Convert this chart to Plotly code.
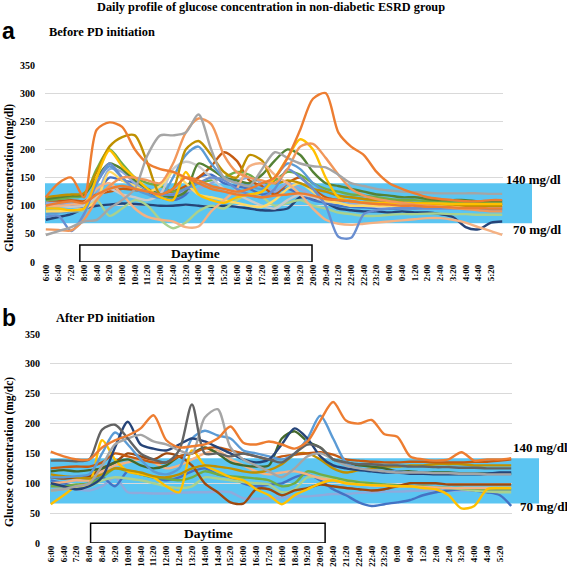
import plotly.graph_objects as go

W, H = 567, 572

# ---------------- data ----------------
tick_labels = ["6:00", "6:40", "7:20", "8:00", "8:40", "9:20", "10:00", "10:40", "11:20",
               "12:00", "12:40", "13:20", "14:00", "14:40", "15:20", "16:00", "16:40", "17:20",
               "18:00", "18:40", "19:20", "20:00", "20:40", "21:20", "22:00", "22:40", "23:20",
               "0:00", "0:40", "1:20", "2:00", "2:40", "3:20", "4:00", "4:40", "5:20"]
# sample times in minutes after 6:00 (every 40 min, last one 5:55)
minutes = [0, 40, 80, 120, 160, 200, 240, 280, 320, 360, 400, 440, 480, 520, 560, 600, 640, 680,
           720, 760, 800, 840, 880, 920, 960, 1000, 1040, 1080, 1120, 1160, 1200, 1240, 1280,
           1320, 1360, 1400, 1435]

# Panel a: before PD initiation (mg/dl)
a_navy = [75, 80, 85, 95, 100, 102, 104, 103, 102, 100, 100, 102, 100, 98, 100, 98, 95, 92, 92, 95, 115, 112, 105, 95, 92, 90, 90, 88, 90, 88, 88, 85, 80, 62, 58, 70, 72]
a_blue = [100, 102, 100, 98, 120, 150, 145, 140, 125, 115, 110, 120, 150, 155, 140, 135, 130, 120, 125, 130, 120, 110, 105, 100, 98, 97, 96, 95, 95, 95, 95, 95, 95, 95, 95, 95, 95]
a_lightgreen = [90, 92, 90, 92, 110, 82, 95, 110, 100, 75, 60, 70, 90, 100, 95, 110, 120, 115, 100, 105, 110, 100, 95, 88, 85, 82, 82, 84, 85, 85, 86, 86, 85, 85, 84, 84, 84]
a_darkorange = [105, 108, 110, 108, 120, 125, 130, 128, 125, 120, 125, 135, 150, 170, 195, 180, 145, 135, 120, 140, 150, 130, 115, 110, 108, 105, 105, 104, 104, 103, 103, 102, 102, 102, 102, 102, 102]
a_green = [110, 112, 115, 118, 165, 200, 175, 150, 140, 135, 125, 130, 140, 145, 150, 160, 155, 140, 145, 160, 155, 140, 130, 125, 120, 118, 115, 112, 110, 110, 108, 108, 106, 105, 105, 104, 104]
a_periwinkle = [105, 105, 103, 100, 120, 165, 160, 140, 130, 125, 120, 125, 130, 140, 150, 145, 150, 140, 125, 140, 130, 118, 110, 105, 103, 102, 101, 100, 100, 100, 100, 100, 100, 100, 100, 100, 100]
a_lightgray = [100, 100, 98, 100, 115, 130, 120, 115, 110, 120, 165, 178, 170, 150, 130, 120, 110, 100, 95, 110, 120, 115, 108, 105, 100, 100, 98, 97, 96, 96, 95, 95, 95, 95, 95, 95, 95]
a_darkgreen = [112, 115, 118, 120, 150, 175, 165, 145, 130, 120, 115, 125, 175, 165, 150, 145, 140, 155, 180, 200, 190, 160, 140, 135, 130, 125, 120, 118, 115, 115, 112, 110, 110, 110, 108, 108, 108]
a_lightblue = [85, 88, 90, 95, 140, 170, 150, 130, 120, 115, 150, 190, 205, 175, 150, 140, 135, 130, 150, 175, 165, 140, 125, 118, 115, 112, 110, 108, 105, 105, 104, 103, 102, 100, 100, 100, 100]
a_yellow2 = [90, 90, 92, 95, 110, 160, 145, 135, 125, 135, 160, 140, 120, 115, 110, 105, 100, 98, 110, 130, 140, 125, 110, 105, 100, 100, 100, 100, 100, 100, 100, 100, 100, 100, 100, 100, 100]
a_darkgold = [115, 118, 120, 122, 160, 205, 222, 225, 175, 120, 130, 200, 215, 190, 160, 150, 190, 180, 140, 145, 140, 130, 125, 118, 115, 112, 110, 108, 106, 105, 104, 103, 102, 100, 100, 100, 100]
a_salmon2 = [100, 100, 102, 105, 130, 140, 120, 95, 80, 75, 72, 62, 63, 90, 110, 130, 170, 175, 155, 140, 120, 95, 75, 68, 66, 68, 70, 72, 74, 76, 78, 78, 75, 70, 62, 55, 48]
a_cornflower = [80, 82, 55, 85, 140, 175, 150, 130, 125, 120, 120, 130, 140, 150, 145, 130, 120, 115, 130, 165, 150, 130, 100, 45, 43, 85, 92, 95, 96, 96, 95, 95, 95, 94, 94, 93, 93]
a_yellow = [95, 95, 92, 95, 150, 198, 170, 150, 130, 115, 110, 160, 120, 110, 105, 115, 120, 125, 150, 185, 218, 200, 150, 115, 108, 106, 105, 105, 105, 104, 104, 104, 103, 103, 103, 103, 103]
a_salmon = [58, 57, 56, 75, 110, 135, 150, 150, 145, 140, 175, 230, 255, 245, 190, 160, 150, 145, 140, 165, 205, 210, 185, 155, 130, 118, 112, 108, 105, 102, 100, 98, 96, 94, 92, 90, 90]
a_orange2 = [115, 140, 150, 115, 235, 248, 240, 200, 175, 165, 160, 150, 140, 130, 125, 120, 118, 115, 118, 120, 122, 118, 112, 110, 108, 105, 103, 102, 100, 100, 98, 98, 97, 96, 96, 95, 95]
a_gray = [48, 55, 62, 72, 75, 95, 110, 130, 190, 225, 225, 230, 262, 200, 150, 140, 135, 165, 195, 185, 175, 170, 168, 155, 140, 135, 130, 127, 125, 124, 123, 122, 122, 122, 122, 121, 121]
a_orange = [100, 105, 108, 105, 120, 130, 135, 130, 125, 120, 130, 150, 145, 135, 130, 125, 130, 140, 150, 185, 235, 290, 300, 230, 205, 190, 160, 140, 130, 122, 115, 112, 110, 108, 108, 110, 110]

# Panel b: after PD initiation (mg/dl)
b_periwinkle = [95, 92, 90, 88, 95, 110, 85, 84, 83, 83, 84, 85, 85, 86, 85, 75, 74, 75, 76, 78, 78, 80, 82, 82, 84, 85, 86, 86, 87, 88, 88, 88, 88, 88, 88, 88, 88]
b_blue = [105, 100, 95, 100, 110, 95, 120, 115, 110, 105, 110, 120, 125, 115, 110, 100, 95, 98, 100, 110, 115, 105, 90, 80, 68, 62, 65, 68, 72, 80, 85, 88, 90, 88, 85, 80, 62]
b_lightgreen = [88, 90, 92, 95, 105, 110, 108, 105, 100, 95, 92, 95, 110, 108, 105, 102, 100, 98, 85, 90, 110, 110, 108, 105, 102, 100, 98, 96, 95, 94, 93, 92, 90, 88, 86, 85, 85]
b_green = [95, 95, 98, 100, 110, 125, 120, 115, 110, 108, 105, 110, 120, 115, 112, 110, 108, 105, 95, 100, 120, 115, 110, 105, 102, 100, 98, 97, 95, 95, 93, 92, 92, 91, 90, 90, 90]
b_salmon = [100, 102, 105, 105, 120, 130, 135, 140, 135, 125, 130, 140, 150, 155, 140, 130, 120, 115, 118, 120, 115, 108, 105, 100, 98, 96, 96, 95, 95, 94, 93, 92, 92, 92, 92, 92, 92]
b_brown = [110, 108, 110, 112, 125, 135, 150, 145, 140, 150, 145, 130, 100, 85, 68, 66, 90, 90, 80, 88, 92, 98, 95, 92, 90, 88, 90, 95, 100, 100, 100, 98, 98, 98, 98, 98, 98]
b_gold = [65, 80, 95, 100, 172, 140, 120, 115, 110, 95, 85, 155, 130, 120, 110, 105, 90, 80, 65, 80, 90, 100, 105, 100, 98, 97, 96, 95, 95, 92, 90, 80, 58, 62, 90, 92, 92]
b_darkgold = [115, 112, 110, 108, 115, 125, 122, 118, 112, 110, 115, 125, 130, 128, 125, 120, 118, 122, 132, 148, 150, 140, 125, 118, 122, 125, 128, 128, 130, 130, 132, 132, 132, 130, 130, 130, 130]
b_darkgreen = [120, 122, 120, 122, 125, 135, 140, 130, 125, 130, 145, 150, 160, 150, 135, 130, 128, 130, 175, 187, 170, 160, 140, 135, 130, 128, 125, 120, 120, 118, 118, 118, 117, 117, 116, 116, 116]
b_darkorange = [125, 127, 128, 128, 135, 150, 145, 140, 135, 135, 145, 150, 158, 160, 155, 150, 145, 140, 145, 148, 150, 152, 148, 140, 138, 136, 135, 135, 136, 136, 135, 135, 135, 136, 136, 138, 140]
b_lightblue = [110, 110, 112, 115, 150, 185, 165, 140, 120, 115, 125, 175, 188, 180, 175, 155, 150, 145, 140, 150, 175, 213, 175, 135, 125, 122, 120, 120, 118, 118, 117, 117, 116, 116, 115, 115, 115]
b_navy = [100, 95, 90, 95, 110, 160, 203, 165, 158, 155, 165, 175, 170, 160, 150, 140, 135, 140, 165, 192, 175, 145, 130, 125, 122, 120, 118, 118, 116, 116, 115, 115, 115, 115, 116, 118, 118]
b_gray = [88, 90, 95, 100, 130, 165, 175, 181, 170, 165, 155, 150, 210, 224, 160, 140, 130, 120, 110, 125, 145, 150, 140, 130, 125, 122, 120, 118, 118, 118, 117, 117, 116, 116, 115, 115, 115]
b_darkgray = [138, 138, 137, 140, 190, 198, 175, 150, 140, 135, 155, 232, 150, 150, 145, 150, 145, 140, 135, 150, 165, 160, 140, 135, 132, 132, 130, 130, 128, 128, 127, 127, 126, 126, 125, 125, 125]
b_orange = [153, 145, 140, 140, 160, 172, 180, 192, 214, 172, 160, 162, 165, 175, 195, 168, 165, 170, 165, 158, 170, 205, 236, 205, 200, 206, 182, 178, 145, 140, 138, 140, 152, 138, 140, 140, 142]

panel_a = [
    (a_navy, "#264478"), (a_blue, "#4472C4"), (a_lightgreen, "#A9D18E"),
    (a_darkorange, "#C55A11"), (a_green, "#70AD47"), (a_periwinkle, "#8FAADC"),
    (a_lightgray, "#C9C9C9"), (a_darkgreen, "#548235"), (a_lightblue, "#5B9BD5"),
    (a_yellow2, "#FFD966"), (a_darkgold, "#BF9000"), (a_salmon2, "#F4B183"),
    (a_cornflower, "#698ED0"), (a_yellow, "#FFC000"), (a_salmon, "#F1975A"),
    (a_orange2, "#ED7D31"), (a_gray, "#A5A5A5"), (a_orange, "#ED7D31"),
]
panel_b = [
    (b_periwinkle, "#8FAADC"), (b_blue, "#4472C4"), (b_lightgreen, "#A9D18E"),
    (b_green, "#70AD47"), (b_salmon, "#F4B183"), (b_brown, "#9E480E"),
    (b_gold, "#FFC000"), (b_darkgold, "#BF9000"), (b_darkgreen, "#43682B"),
    (b_darkorange, "#C55A11"), (b_lightblue, "#5B9BD5"), (b_navy, "#264478"),
    (b_gray, "#A5A5A5"), (b_darkgray, "#636363"), (b_orange, "#ED7D31"),
]

SERIF = "Liberation Serif"


def px(x, y):
    return x / W, 1 - y / H


fig = go.Figure()
for vals, col in panel_a:
    assert len(vals) == len(minutes)
    fig.add_trace(go.Scatter(x=minutes, y=vals, mode="lines", xaxis="x", yaxis="y",
                             line=dict(color=col, width=2.4, shape="spline", smoothing=0.8),
                             showlegend=False, hoverinfo="skip"))
for vals, col in panel_b:
    assert len(vals) == len(minutes)
    fig.add_trace(go.Scatter(x=minutes, y=vals, mode="lines", xaxis="x2", yaxis="y2",
                             line=dict(color=col, width=2.4, shape="spline", smoothing=0.8),
                             showlegend=False, hoverinfo="skip"))

tickvals = [40 * i for i in range(len(tick_labels))]
xcommon = dict(range=[-2.5, 1437.5], tickmode="array", tickvals=tickvals, ticktext=tick_labels,
               tickangle=-90, showgrid=False, zeroline=False, showline=False, ticks="",
               tickfont=dict(family=SERIF, size=9, color="black", weight="bold"), automargin=False)
ycommon = dict(range=[0, 350], tickvals=[0, 50, 100, 150, 200, 250, 300, 350], showgrid=True,
               gridcolor="#D9D9D9", gridwidth=1.2, zeroline=False, showline=False, ticks="",
               tickfont=dict(family=SERIF, size=10, color="black", weight="bold"), automargin=False)

fig.update_layout(
    width=W, height=H, margin=dict(l=0, r=0, t=0, b=0),
    paper_bgcolor="white", plot_bgcolor="white",
    xaxis=dict(domain=[45 / W, 503 / W], anchor="y", **xcommon),
    yaxis=dict(domain=[1 - 262 / H, 1 - 65 / H], anchor="x", ticklabelstandoff=9, **ycommon),
    xaxis2=dict(domain=[50 / W, 512 / W], anchor="y2", **xcommon),
    yaxis2=dict(domain=[1 - 543 / H, 1 - 334 / H], anchor="x2", ticklabelstandoff=9, **ycommon),
    showlegend=False,
)

BAND = "#5BC5F2"
shapes = [
    dict(type="rect", xref="paper", yref="y", x0=45 / W, x1=532 / W, y0=69, y1=140,
         fillcolor=BAND, line_width=0, layer="between"),
    dict(type="rect", xref="paper", yref="y2", x0=50 / W, x1=539 / W, y0=66, y1=142,
         fillcolor=BAND, line_width=0, layer="between"),
    dict(type="rect", xref="x", yref="y", x0=107, x1=837, y0=0, y1=30,
         fillcolor="white", line=dict(color="black", width=1.5), layer="above"),
    dict(type="rect", xref="x2", yref="y2", x0=124, x1=855, y0=0, y1=33,
         fillcolor="white", line=dict(color="black", width=1.5), layer="above"),
]
fig.update_layout(shapes=shapes)

ann = []


def text(x, y, s, size, family=SERIF, xanchor="left", angle=0):
    xx, yy = px(x, y)
    ann.append(dict(xref="paper", yref="paper", x=xx, y=yy, text=s, showarrow=False,
                    xanchor=xanchor, yanchor="middle", textangle=angle,
                    font=dict(family=family, size=size, color="black")))


text(271, 7, "<b>Daily profile of glucose concentration in non-diabetic ESRD group</b>", 12.3, xanchor="center")
text(0, 31, "<b>a</b>", 23, family="Liberation Sans")
text(47, 32, "<b>Before PD initiation</b>", 12.4)
text(0, 318, "<b>b</b>", 23, family="Liberation Sans")
text(54, 318, "<b>After PD initiation</b>", 12.4)
text(9, 178, "<b>Glucose concentration (mg/dl)</b>", 11.5, xanchor="center", angle=-90)
text(9, 452, "<b>Glucose concentration (mg/dc)</b>", 11.5, xanchor="center", angle=-90)
text(504, 179, "<b>140 mg/dl</b>", 13)
text(511, 229, "<b>70 mg/dl</b>", 13)
text(511, 447, "<b>140 mg/dl</b>", 13)
text(518, 506, "<b>70 mg/dl</b>", 13)
fig.update_layout(annotations=ann)

# "Daytime" labels inside the boxes
fig.add_annotation(xref="x", yref="y", x=472, y=15, text="<b>Daytime</b>", showarrow=False,
                   font=dict(family=SERIF, size=13.5, color="black"))
fig.add_annotation(xref="x2", yref="y2", x=490, y=16, text="<b>Daytime</b>", showarrow=False,
                   font=dict(family=SERIF, size=13.5, color="black"))

fig.write_html("out.html", config={"displayModeBar": False},
               post_script="document.body.style.margin='0px';document.body.style.overflow='hidden';")
